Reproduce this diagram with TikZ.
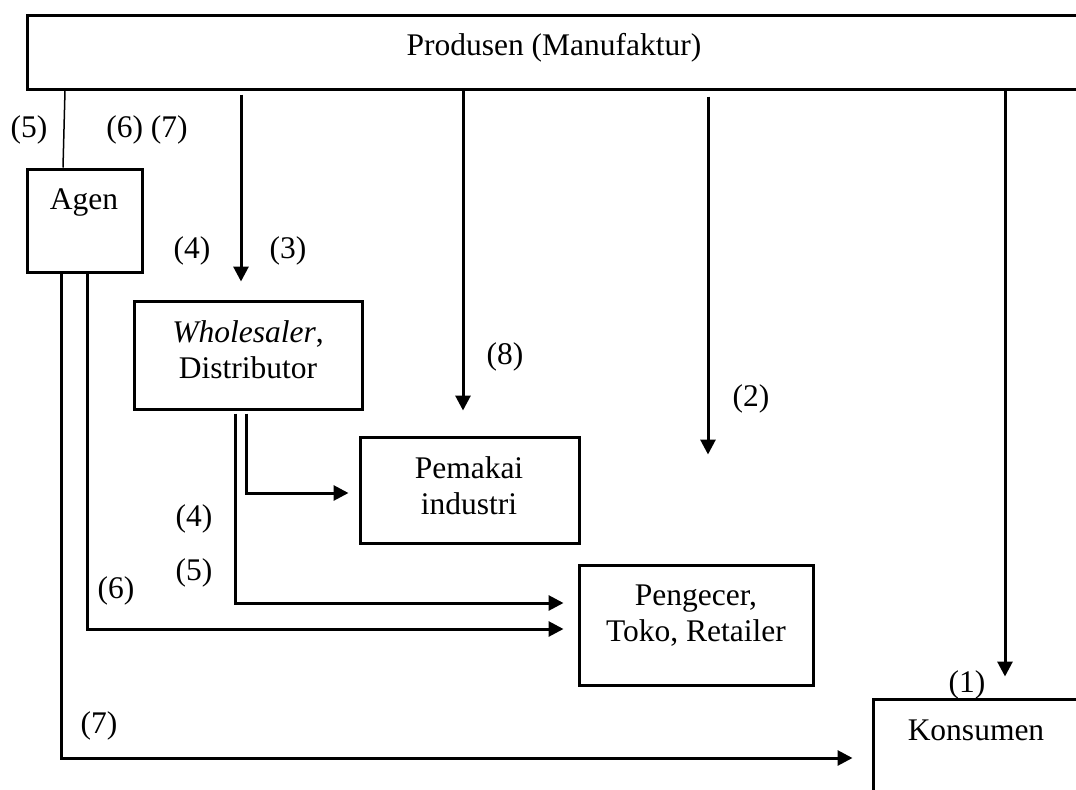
\documentclass[tikz,border=0pt]{standalone}
\usepackage{fontspec}
\setmainfont{Liberation Serif}
\usetikzlibrary{arrows.meta,fit}
\begin{document}
\begin{tikzpicture}[x=0.4pt,y=-0.4pt,
  box/.style={draw,line width=1.2pt,inner sep=0pt,rectangle},
  lbl/.style={inner sep=0pt,anchor=base,font=\fontsize{12.6}{14.4}\selectfont},
  arr/.style={line width=1.2pt,-{Triangle[length=6pt,width=6pt]}},
  wire/.style={line width=1.2pt},
  hair/.style={line width=0.6pt}]
\useasboundingbox (0,0) rectangle (1076,789);
\clip (0,0) rectangle (1076,789);

% boxes
\node[box,fit={(27,15) (1110,89)}] (prod) {};
\node[box,fit={(27,169) (142,272)}] (agen) {};
\node[box,fit={(134,301) (362,409)}] (whole) {};
\node[box,fit={(360,437) (579,543)}] (pemakai) {};
\node[box,fit={(579,565) (813,685)}] (ecer) {};
\node[box,fit={(873,699) (1110,820)}] (kons) {};

% box texts (multi-line nodes sit on the baseline of their last line)
\node[lbl] (tprod) at (554,55) {Produsen (Manufaktur)};
\node[lbl] (tagen) at (84,209) {Agen};
\node[lbl,align=center] (twhole) at (248,378) {\textit{Wholesaler},\\Distributor};
\node[lbl,align=center] (tpem) at (469,514) {Pemakai\\industri};
\node[lbl,align=center] (tecer) at (696,641) {Pengecer,\\Toko, Retailer};
\node[lbl] (tkons) at (976,740) {Konsumen};

% channel numbers
\node[lbl] (n5a) at (29,137) {(5)};
\node[lbl] (n67) at (147,137) {(6) (7)};
\node[lbl] (n4a) at (192,258) {(4)};
\node[lbl] (n3) at (288,258) {(3)};
\node[lbl] (n8) at (505,364) {(8)};
\node[lbl] (n2) at (751,406) {(2)};
\node[lbl] (n4b) at (194,526) {(4)};
\node[lbl] (n5b) at (194,580) {(5)};
\node[lbl] (n6) at (116,598) {(6)};
\node[lbl] (n1) at (967,692) {(1)};
\node[lbl] (n7) at (99,733) {(7)};

% columns and rows of the connectors
\coordinate (xa) at (65,0);
\coordinate (xb) at (63,0);
\coordinate (x3) at (241,0);
\coordinate (x8) at (463,0);
\coordinate (x2) at (708,0);
\coordinate (x1) at (1005,0);
\coordinate (w5) at (235,603);
\coordinate (w4) at (246,493);
\coordinate (a7) at (61,758);
\coordinate (a6) at (87,629);

% producer to agent
\draw[hair] (prod.south -| xa) -- (agen.north -| xb);

% producer straight down
\draw[arr,shorten <=1.6pt,shorten >=7.2pt] (prod.south -| x3) -- (whole.north -| x3);
\draw[arr,shorten >=10pt] (prod.south -| x8) -- (pemakai.north -| x8);
\draw[arr,shorten <=2.4pt,shorten >=43.6pt] (prod.south -| x2) -- (ecer.north -| x2);
\draw[arr,shorten >=8.4pt] (prod.south -| x1) -- (kons.north -| x1);

% wholesaler outputs
\draw[arr,shorten >=5.6pt] ([yshift=-1.2pt]whole.south -| w5) -- (w5) -- (w5 -| ecer.west);
\draw[arr,shorten >=4pt] ([yshift=-1.2pt]whole.south -| w4) -- (w4) -- (w4 -| pemakai.west);

% agent outputs
\draw[arr,shorten >=5.6pt] ([yshift=0.8pt]agen.south -| a6) -- (a6) -- (a6 -| ecer.west);
\draw[arr,shorten >=7.6pt] ([yshift=0.8pt]agen.south -| a7) -- (a7) -- (a7 -| kons.west);
\end{tikzpicture}
\end{document}
